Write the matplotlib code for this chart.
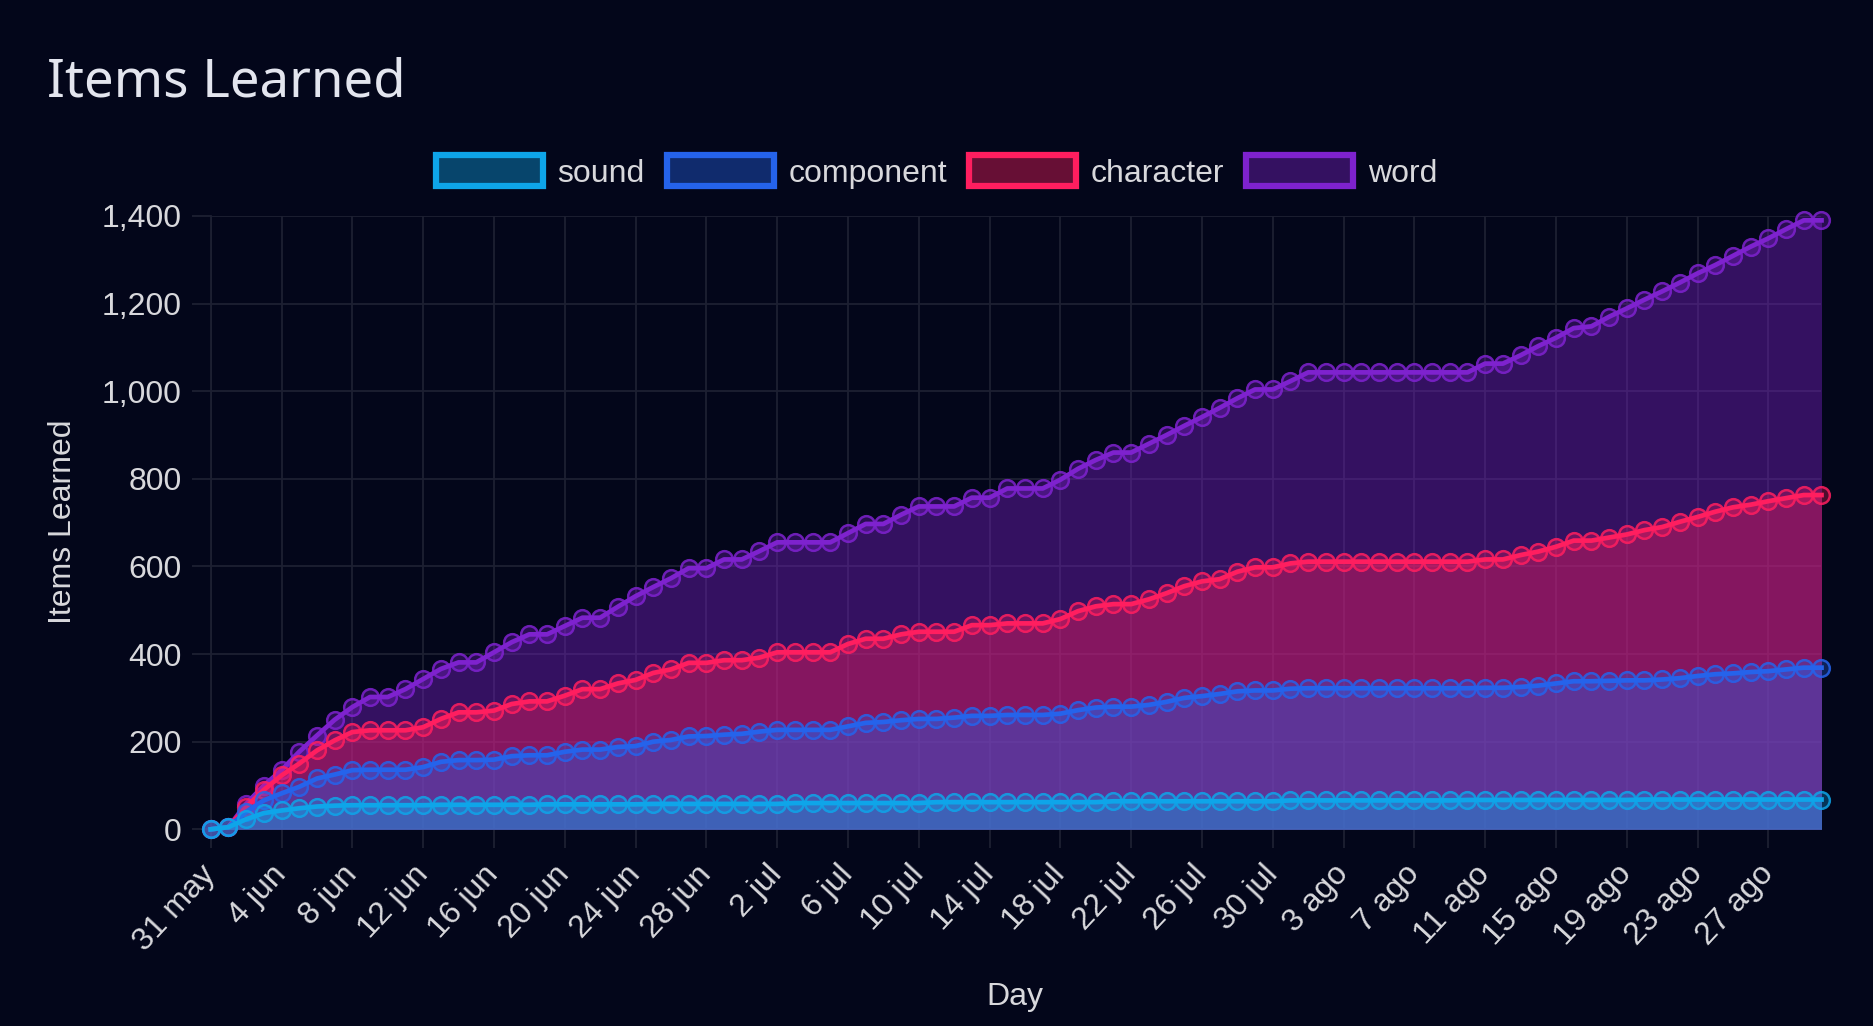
import numpy as np
import pandas as pd
import matplotlib
matplotlib.use("Agg")
import matplotlib.pyplot as plt
from matplotlib.colors import to_rgba
from matplotlib.patches import Patch

# daily cumulative counts, 31 May -> 30 Aug
start = "2023-05-31"
n_days = 92

sound = [0, 5, 23, 37, 43, 48, 52, 54, 55, 55,
         55, 55, 55, 56, 56, 56, 56, 56, 56, 57,
         57, 57, 57, 57, 57, 58, 58, 58, 58, 58,
         58, 58, 58, 60, 60, 60, 60, 60, 60, 60,
         60, 62, 62, 62, 62, 62, 62, 62, 62, 62,
         62, 64, 64, 64, 64, 64, 64, 64, 64, 64,
         64, 66, 66, 66, 66, 66, 66, 66, 66, 66,
         66, 67, 67, 67, 67, 67, 67, 67, 67, 67,
         67, 68, 68, 68, 68, 68, 68, 68, 68, 68,
         68, 68]

component = [0, 5, 40, 66, 82, 97, 116, 125, 135, 136,
             136, 136, 142, 154, 158, 158, 159, 167, 169, 169,
             177, 182, 182, 188, 190, 200, 204, 212, 213, 216,
             218, 223, 227, 227, 227, 227, 235, 243, 245, 249,
             252, 252, 255, 259, 259, 261, 261, 261, 264, 272,
             278, 280, 280, 284, 291, 300, 304, 309, 315, 317,
             317, 321, 322, 322, 322, 322, 322, 322, 322, 322,
             322, 322, 323, 323, 325, 328, 333, 338, 338, 339,
             340, 340, 342, 345, 350, 354, 356, 359, 361, 365,
             369, 369]

character = [0, 5, 51, 90, 123, 150, 180, 203, 222, 226,
             226, 226, 233, 252, 267, 267, 271, 286, 292, 292,
             305, 320, 320, 333, 341, 357, 365, 380, 380, 386,
             386, 392, 404, 404, 404, 404, 423, 435, 435, 445,
             451, 451, 451, 466, 466, 470, 470, 470, 480, 498,
             509, 514, 514, 525, 539, 555, 566, 571, 588, 598,
             598, 607, 611, 611, 611, 611, 611, 611, 611, 611,
             611, 611, 616, 616, 626, 634, 645, 659, 659, 666,
             673, 683, 690, 702, 713, 725, 735, 741, 749, 756,
             763, 763]

word = [0, 5, 58, 100, 135, 177, 214, 250, 279, 302,
        302, 320, 343, 366, 381, 381, 404, 427, 445, 445,
        464, 483, 483, 508, 532, 553, 573, 596, 596, 616,
        616, 635, 655, 655, 655, 655, 676, 697, 697, 718,
        737, 737, 737, 757, 757, 778, 778, 778, 798, 823,
        843, 860, 860, 880, 900, 921, 941, 962, 984, 1004,
        1004, 1023, 1043, 1043, 1043, 1043, 1043, 1043, 1043, 1043,
        1043, 1043, 1063, 1063, 1082, 1103, 1122, 1144, 1148, 1170,
        1189, 1209, 1228, 1248, 1269, 1288, 1309, 1330, 1349, 1370,
        1390, 1390]

labels = ["sound", "component", "character", "word"]
colors = ["#0ea5e9", "#2563eb", "#ff1e5f", "#7e22ce"]
months = {5: "may", 6: "jun", 7: "jul", 8: "ago"}

days = pd.date_range(start, periods=n_days, freq="D")
series = [sound, component, character, word]

bg = "#03061a"
grid_c = "#1d2032"
text_c = "#d8d8dc"
fs = 23
plt.rcParams["font.family"] = ["Liberation Sans", "DejaVu Sans"]

fig = plt.figure(figsize=(18.73, 10.26), dpi=100, facecolor=bg)
ax = fig.add_axes([0.1125, 0.1917, 0.86, 0.5978])
ax.set_facecolor(bg)

# chart.js draws the first dataset on top
for i in range(len(series) - 1, -1, -1):
    c = colors[i]
    z = 2 + (len(series) - i) * 2
    ax.fill_between(days, 0, series[i], color=to_rgba(c, 0.4), lw=0, zorder=z)
    ax.plot(days, series[i], color=c, lw=3.4, marker="o", ms=12,
            mfc=to_rgba(c, 0.3), mec=to_rgba(c, 0.85), mew=1.8,
            zorder=z + 1, clip_on=False)

ax.set_xlim(days[0], days[-1])
ax.set_ylim(0, 1400)
ax.set_yticks(np.arange(0, 1401, 200))
ax.set_yticklabels([f"{v:,}" for v in range(0, 1401, 200)])

tick_days = days[::4]
ax.set_xticks(tick_days)
ax.set_xticklabels([f"{d.day} {months[d.month]}" for d in tick_days],
                   rotation=47, ha="right", va="center", rotation_mode="anchor")

ax.grid(True, color=grid_c, lw=1.3, zorder=0)
ax.set_axisbelow(True)
for s in ["top", "right"]:
    ax.spines[s].set_visible(False)
for s in ["left", "bottom"]:
    ax.spines[s].set_color(grid_c)
    ax.spines[s].set_linewidth(1.3)
ax.tick_params(axis="both", colors=grid_c, labelcolor=text_c, labelsize=fs,
               length=14, width=1.3)
ax.tick_params(axis="x", pad=15)
ax.tick_params(axis="y", pad=7)

fig.text(0.542, 0.028, "Day", color=text_c, fontsize=fs,
         ha="center", va="center")
fig.text(0.0336, 0.491, "Items Learned", color=text_c, fontsize=fs,
         rotation=90, ha="center", va="center")

fig.text(0.0251, 0.9064, "Items Learned", color="#e3e5ee", fontsize=38,
         family=["Noto Sans", "DejaVu Sans"], ha="left", va="baseline")

handles = [Patch(facecolor=to_rgba(c, 0.4), edgecolor=c, linewidth=4.5, label=l)
           for c, l in zip(colors, labels)]
leg = fig.legend(handles=handles, loc="center", bbox_to_anchor=(0.5, 0.8324),
                 ncol=4, frameon=False, fontsize=fs, handlelength=3.35,
                 handleheight=1.1, handletextpad=0.45, columnspacing=0.7)
for t in leg.get_texts():
    t.set_color(text_c)

fig.savefig("out.png", dpi=100, facecolor=bg)
